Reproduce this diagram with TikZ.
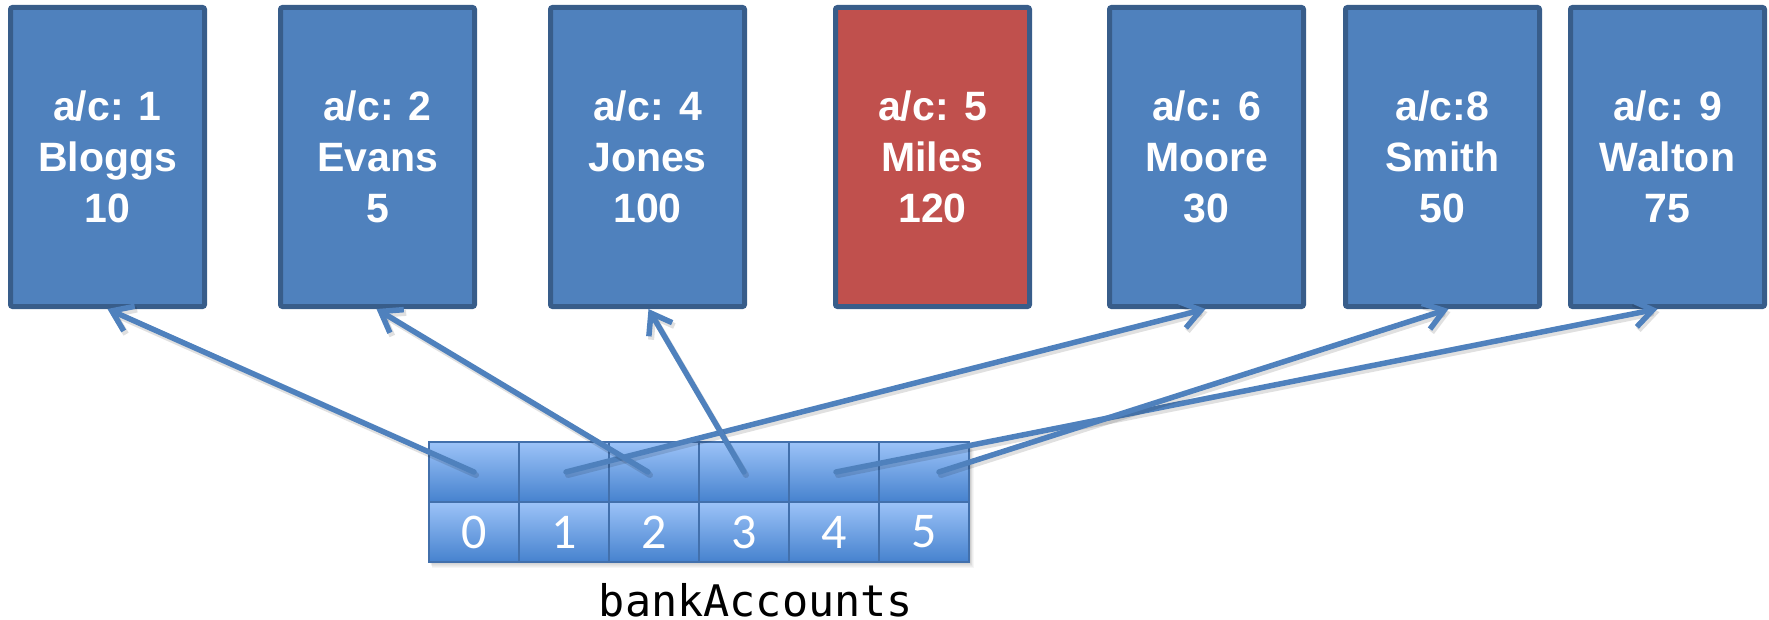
\documentclass[tikz,border=0pt]{standalone}
\usepackage{fontspec}
\setmainfont{Liberation Sans}
\newfontfamily\idxfont{Carlito}
\newfontfamily\codefont{DejaVu Sans Mono}
\usetikzlibrary{arrows.meta,calc}

\definecolor{acctblue}{HTML}{4F81BD}
\definecolor{acctred}{HTML}{C0504D}
\definecolor{acctedge}{HTML}{385D8A}
\definecolor{celltop}{RGB}{156,195,248}
\definecolor{cellbot}{RGB}{70,130,206}
\definecolor{celledge}{RGB}{66,112,172}

\tikzset{
  account/.style={draw=acctedge, line width=5pt, fill=acctblue, rounded corners=2pt,
    minimum width=194pt, minimum height=299pt, inner sep=0pt, text=white,
    font=\fontsize{41}{51}\selectfont\bfseries, align=center},
  cell/.style={draw=celledge, line width=1.5pt, top color=celltop, bottom color=cellbot,
    minimum width=90pt, minimum height=60pt, inner sep=0pt, text=white,
    font=\idxfont\fontsize{50}{50}\selectfont},
  ref/.style={draw=acctblue, line width=5.5pt, line cap=round,
    -{Straight Barb[length=19pt,width=27pt]}},
  refshadow/.style={draw=black, opacity=0.12, line width=6pt, line cap=round,
    -{Straight Barb[length=19pt,width=27pt]}},
  caption/.style={font=\codefont\fontsize{43.5}{43.5}\selectfont, anchor=base, inner sep=0pt}
}

\begin{document}
\begin{tikzpicture}[x=1pt,y=-1pt]
\useasboundingbox (0,0) rectangle (1769,620);

% account objects
\node[account] (bloggs) at (107.5,157) {a/c: 1\\Bloggs\\10};
\node[account] (evans)  at (377.5,157) {a/c: 2\\Evans\\5};
\node[account] (jones)  at (647.5,157) {a/c: 4\\Jones\\100};
\node[account, fill=acctred] (miles) at (932.5,157) {a/c: 5\\Miles\\120};
\node[account] (moore)  at (1206.5,157) {a/c: 6\\Moore\\30};
\node[account] (smith)  at (1442.5,157) {a/c:8\\Smith\\50};
\node[account] (walton) at (1667.5,157) {a/c: 9\\Walton\\75};

% soft shadow under the array
\foreach \k in {1,...,6}
  \fill[black, opacity=0.035] (429+\k*0.5,444+\k) rectangle (970+\k*0.6,562+\k);

% array cells: reference row and index row
\foreach \i/\x in {0/474,1/564,2/654,3/744,4/834,5/924} {
  \node[cell] (c\i) at (\x,472) {};
  \node[cell] (i\i) at (\x,532) {\i};
}

% references from the array slots to the accounts
\foreach \s/\sx/\t/\tx in {c0/0/bloggs/0, c1/2/moore/-1, c2/-6/evans/-1,
                          c3/0/jones/1, c4/2/walton/-10, c5/15/smith/6} {
  \draw[refshadow] ($(\s)+(\sx+2,3)$) -- ($(\t.south)+(\tx+2,3)$);
  \draw[ref] ($(\s)+(\sx,0)$) -- ($(\t.south)+(\tx,0)$);
}

\node[caption] (name) at (756,616.5) {bankAccounts};
\end{tikzpicture}
\end{document}
